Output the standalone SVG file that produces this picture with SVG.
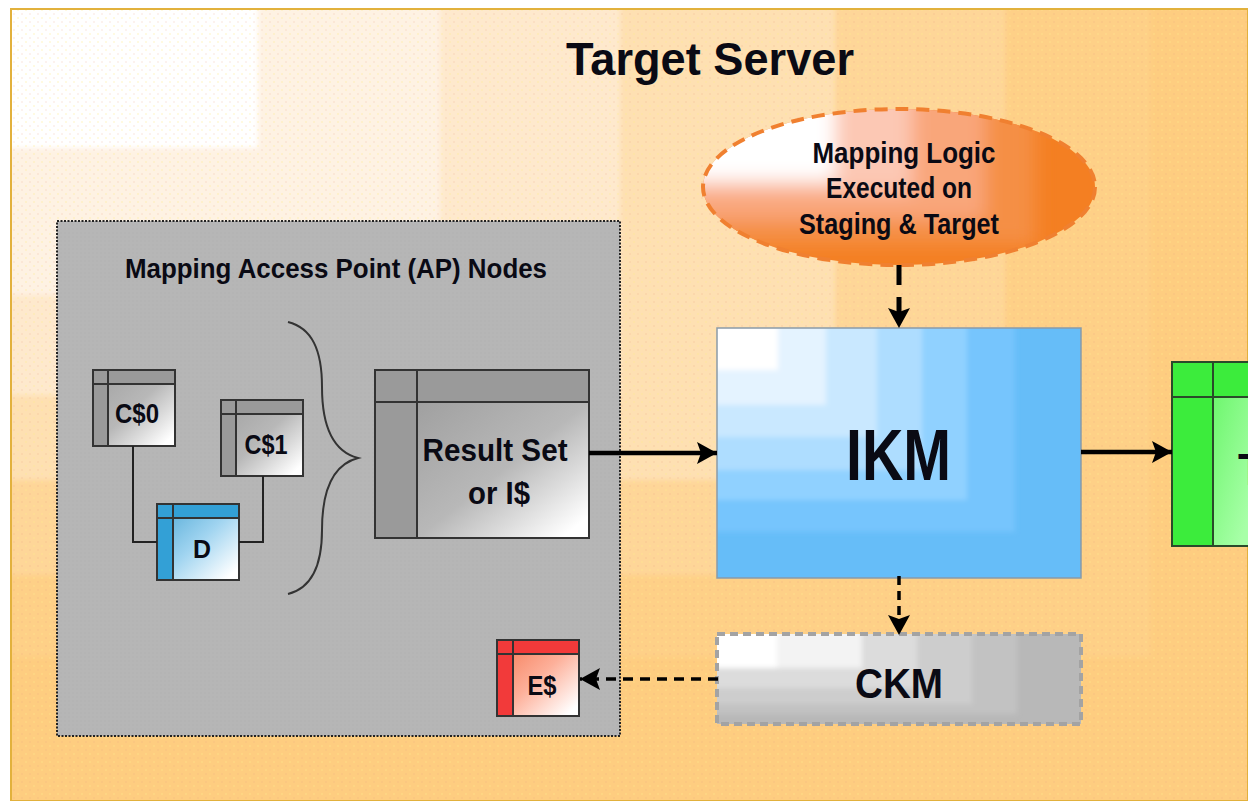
<svg xmlns="http://www.w3.org/2000/svg" width="1248" height="801" viewBox="0 0 1248 801">
<defs>
<pattern id="dots" width="8" height="8" patternUnits="userSpaceOnUse"><circle cx="2" cy="2" r="0.8" fill="#ffe98a" opacity="0.6"/><circle cx="6" cy="6" r="0.8" fill="#e8a080" opacity="0.3"/></pattern>
<pattern id="greyDots" width="4" height="4" patternUnits="userSpaceOnUse"><circle cx="1" cy="1" r="0.7" fill="#a0a0a0" opacity="0.2"/></pattern>
<linearGradient id="grayBody" x1="0" y1="0" x2="1" y2="1"><stop offset="0" stop-color="#a0a0a0"/><stop offset="0.5" stop-color="#b8b8b8"/><stop offset="0.72" stop-color="#dcdcdc"/><stop offset="0.92" stop-color="#ffffff"/></linearGradient>
<linearGradient id="blueBody" x1="0" y1="0" x2="1" y2="1"><stop offset="0" stop-color="#4aa6d4"/><stop offset="0.5" stop-color="#a0d4f0"/><stop offset="0.92" stop-color="#ffffff"/></linearGradient>
<linearGradient id="redBody" x1="0" y1="0" x2="1" y2="1"><stop offset="0" stop-color="#f5754f"/><stop offset="0.5" stop-color="#fdb09a"/><stop offset="0.92" stop-color="#ffffff"/></linearGradient>
<linearGradient id="greenBody" x1="0" y1="0" x2="1" y2="0.6"><stop offset="0" stop-color="#45f045"/><stop offset="1" stop-color="#a8ffa8"/></linearGradient>
<clipPath id="ellipseClip"><ellipse cx="899" cy="187" rx="196" ry="78"/></clipPath>
<clipPath id="frameClip"><rect x="12" y="10" width="1236" height="790"/></clipPath>
<clipPath id="ikmClip"><rect x="717" y="328" width="364" height="250"/></clipPath>
<clipPath id="ckmClip"><rect x="717" y="634" width="364" height="90"/></clipPath>
<filter id="soft" x="-5%" y="-5%" width="110%" height="110%"><feGaussianBlur stdDeviation="2.5"/></filter>
<filter id="softer" x="-10%" y="-10%" width="120%" height="120%"><feGaussianBlur stdDeviation="9"/></filter>
<marker id="head" markerUnits="userSpaceOnUse" markerWidth="24" markerHeight="26" refX="20" refY="12" orient="auto"><path d="M0 1 L20 12 L0 23 L4 12 Z" fill="#000"/></marker>
</defs>
<style>
text{font-family:"Liberation Sans",Arial,sans-serif;font-weight:700;fill:#0a0a14;text-anchor:middle}
.t{stroke:#333;stroke-width:2;fill:none}
.g{fill:#9a9a9a}
.wire{stroke:#222;stroke-width:2;fill:none}
.arrow{stroke:#000;fill:none;marker-end:url(#head)}
</style>
<rect width="1248" height="801" fill="#fff"/>
<g id="target-server">
<rect x="11" y="9" width="1237" height="792" fill="#fecd80" stroke="#e2b13c" stroke-width="2"/>
<g clip-path="url(#frameClip)">
<g filter="url(#soft)">
<rect x="-40" y="-40" width="1190" height="697" fill="#fed087"/>
<rect x="-40" y="-40" width="1045" height="615" fill="#fed698"/>
<rect x="-40" y="-40" width="875" height="520" fill="#fee0b2"/>
<rect x="-40" y="-40" width="660" height="435" fill="#fee9cd"/>
<rect x="-40" y="-40" width="480" height="335" fill="#fef2e3"/>
<rect x="-40" y="-40" width="298" height="188" fill="#ffffff"/>
</g>
</g>
<rect x="12" y="10" width="1236" height="790" fill="url(#dots)"/>
<text x="710" y="75" font-size="47" textLength="288" lengthAdjust="spacingAndGlyphs">Target Server</text>
</g>
<g id="ap-nodes">
<rect x="57" y="221" width="563" height="515" fill="#b6b6b6" stroke="#222" stroke-width="2" stroke-dasharray="2 1.5"/>
<rect x="58" y="222" width="561" height="513" fill="url(#greyDots)"/>
<text x="336" y="278" font-size="27" textLength="422" lengthAdjust="spacingAndGlyphs">Mapping Access Point (AP) Nodes</text>
<path d="M288 322 C312 328 322 350 322 387 C322 430 335 452 358 458 C335 464 322 486 322 530 C322 566 312 588 288 594" fill="none" stroke="#333" stroke-width="2"/>
</g>
<g id="c0">
<rect x="93" y="370" width="82" height="76" fill="url(#grayBody)"/>
<rect class="g" x="93" y="370" width="82" height="14"/><rect class="g" x="93" y="370" width="15" height="76"/>
<rect class="t" x="93" y="370" width="82" height="76"/><path class="t" d="M93 384H175M108 370V446"/>
<text x="137" y="423" font-size="27" textLength="44" lengthAdjust="spacingAndGlyphs">C$0</text>
</g>
<g id="c1">
<rect x="221" y="400" width="82" height="76" fill="url(#grayBody)"/>
<rect class="g" x="221" y="400" width="82" height="14"/><rect class="g" x="221" y="400" width="15" height="76"/>
<rect class="t" x="221" y="400" width="82" height="76"/><path class="t" d="M221 414H303M236 400V476"/>
<text x="266" y="454" font-size="27" textLength="43" lengthAdjust="spacingAndGlyphs">C$1</text>
</g>
<g id="d">
<rect x="157" y="504" width="82" height="76" fill="url(#blueBody)"/>
<rect fill="#33a0d6" x="157" y="504" width="82" height="14"/><rect fill="#33a0d6" x="157" y="504" width="15" height="76"/>
<rect class="t" x="157" y="504" width="82" height="76"/><path class="t" d="M157 518H239M173 504V580"/>
<text x="202" y="558" font-size="26" textLength="18" lengthAdjust="spacingAndGlyphs">D</text>
</g>
<g id="result-set">
<rect x="417" y="402" width="172" height="136" fill="url(#grayBody)"/>
<rect class="g" x="375" y="370" width="214" height="32"/><rect class="g" x="375" y="370" width="42" height="168"/>
<rect class="t" x="375" y="370" width="214" height="168"/><path class="t" d="M375 402H589M417 370V538"/>
<text x="495" y="461" font-size="32" textLength="145" lengthAdjust="spacingAndGlyphs">Result Set</text>
<text x="499" y="504" font-size="32" textLength="62" lengthAdjust="spacingAndGlyphs">or I$</text>
</g>
<g id="e">
<rect x="497" y="640" width="82" height="76" fill="url(#redBody)"/>
<rect fill="#f23a3a" x="497" y="640" width="82" height="14"/><rect fill="#f23a3a" x="497" y="640" width="16" height="76"/>
<rect class="t" x="497" y="640" width="82" height="76"/><path class="t" d="M497 654H579M513 640V716"/>
<text x="542" y="695" font-size="27" textLength="29" lengthAdjust="spacingAndGlyphs">E$</text>
</g>
<g id="mapping-logic">
<g clip-path="url(#ellipseClip)">
<rect x="690" y="95" width="420" height="185" fill="#f47f22"/>
<g filter="url(#softer)">
<rect x="640" y="50" width="395" height="195" fill="#f58f45"/>
<rect x="640" y="50" width="345" height="170" fill="#f9a67a"/>
<rect x="640" y="50" width="272" height="142" fill="#fcc8b4"/>
<rect x="640" y="50" width="195" height="130" fill="#ffffff"/>
</g>
</g>
<ellipse cx="899" cy="187" rx="196" ry="78" fill="none" stroke="#f08030" stroke-width="4" stroke-dasharray="13 8"/>
<text x="904" y="163" font-size="29" textLength="183" lengthAdjust="spacingAndGlyphs">Mapping Logic</text>
<text x="899" y="198" font-size="29" textLength="146" lengthAdjust="spacingAndGlyphs">Executed on</text>
<text x="899" y="234" font-size="29" textLength="200" lengthAdjust="spacingAndGlyphs">Staging &amp; Target</text>
</g>
<g id="ikm">
<rect x="717" y="328" width="364" height="250" fill="#66bdf8"/>
<g clip-path="url(#ikmClip)"><g filter="url(#soft)">
<rect x="680" y="290" width="335" height="242" fill="#76c5fd"/>
<rect x="680" y="290" width="287" height="210" fill="#90d1ff"/>
<rect x="680" y="290" width="242" height="180" fill="#aeddff"/>
<rect x="680" y="290" width="197" height="147" fill="#c9e8ff"/>
<rect x="680" y="290" width="146" height="115" fill="#e4f3ff"/>
<rect x="680" y="290" width="98" height="80" fill="#ffffff"/>
</g></g>
<rect x="717" y="328" width="364" height="250" fill="none" stroke="#8a9aa8" stroke-width="1.5"/>
<text x="898.500" y="480" font-size="73" textLength="105" lengthAdjust="spacingAndGlyphs">IKM</text>
</g>
<g id="ckm">
<rect x="717" y="634" width="364" height="90" fill="#b8b8b8"/>
<g clip-path="url(#ckmClip)"><g filter="url(#soft)">
<rect x="680" y="600" width="337" height="114" fill="#c2c2c2"/>
<rect x="680" y="600" width="292" height="104" fill="#cdcdcd"/>
<rect x="680" y="600" width="237" height="88" fill="#dcdcdc"/>
<rect x="680" y="600" width="182" height="68" fill="#f3f3f3"/>
<rect x="680" y="600" width="97" height="68" fill="#ffffff"/>
</g></g>
<rect x="717" y="634" width="364" height="90" fill="none" stroke="#a3a3a3" stroke-width="4" stroke-dasharray="8 5"/>
<text x="899" y="698" font-size="43" textLength="88" lengthAdjust="spacingAndGlyphs">CKM</text>
</g>
<g id="target-table">
<rect x="1172" y="362" width="90" height="184" fill="url(#greenBody)"/>
<rect fill="#3cec3c" x="1172" y="362" width="90" height="35"/><rect fill="#3cec3c" x="1172" y="362" width="41" height="184"/>
<rect x="1172" y="362" width="90" height="184" fill="none" stroke="#2a4a2a" stroke-width="2"/>
<path fill="none" stroke="#2a4a2a" stroke-width="2" d="M1172 397H1248M1213 362V546"/>
<text x="1238" y="485" font-size="44" style="text-anchor:start">T</text>
</g>
<g id="connectors">
<path class="wire" d="M133 446V542H157"/>
<path class="wire" d="M263 476V542H239"/>
<path class="arrow" stroke-width="4.500" d="M589 453H717"/>
<path class="arrow" stroke-width="4.500" d="M1081 452H1172"/>
<path class="arrow" stroke-width="5" stroke-dasharray="20 12" d="M899 265V328"/>
<path class="arrow" stroke-width="3.500" stroke-dasharray="9 6" d="M899 576V635"/>
<path class="arrow" stroke-width="3.500" stroke-dasharray="10 7" d="M718 679H580"/>
</g>
</svg>
